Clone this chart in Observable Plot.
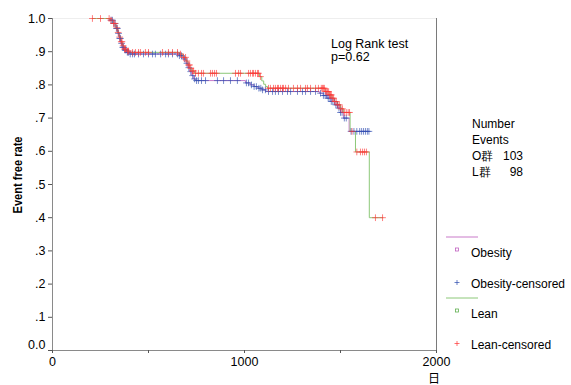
<!DOCTYPE html>
<html><head><meta charset="utf-8">
<script src="https://cdn.jsdelivr.net/npm/d3@7"></script>
<script src="https://cdn.jsdelivr.net/npm/@observablehq/plot@0.6"></script>
<style>
body{margin:0;background:#fff;}
#wrap{position:relative;width:571px;height:385px;overflow:hidden;background:#fff;}
</style></head><body><div id="wrap"></div>
<script>
// ---- data ----
const obesityTime = [208,300,315,330,340,348,356,364,372,385,400,660,680,695,705,715,725,735,745,1005,1030,1050,1070,1090,1110,1390,1410,1430,1450,1470,1485,1500,1515,1545];
const obesitySurv = [1,0.995,0.985,0.97,0.955,0.94,0.925,0.913,0.905,0.898,0.893,0.888,0.878,0.865,0.852,0.84,0.828,0.818,0.813,0.806,0.8,0.795,0.79,0.785,0.78,0.775,0.768,0.76,0.75,0.74,0.73,0.717,0.70,0.66];
const obesityEnd = 1652;
const obesityCensor = [305,312,320,326,333,338,344,350,354,360,366,370,378,383,390,396,405,417,427,448,474,500,521,536,563,589,604,625,651,661,672,688,700,710,720,730,740,750,760,776,797,859,891,927,963,1010,1021,1036,1050,1062,1075,1085,1094,1109,1125,1146,1161,1177,1198,1224,1240,1276,1302,1318,1344,1370,1396,1411,1420,1428,1436,1445,1452,1460,1468,1476,1484,1492,1500,1508,1520,1530,1555,1570,1585,1600,1610,1620,1630,1640,1648];

const leanTime = [208,300,315,330,340,348,356,364,372,385,400,660,680,695,705,715,725,740,1078,1090,1100,1110,1120,1420,1440,1455,1470,1485,1500,1515,1550,1578,1650];
const leanSurv = [1,0.995,0.985,0.972,0.958,0.944,0.93,0.918,0.908,0.902,0.898,0.893,0.883,0.872,0.86,0.85,0.842,0.835,0.825,0.812,0.802,0.795,0.79,0.78,0.77,0.76,0.75,0.74,0.728,0.717,0.66,0.598,0.40];
const leanEnd = 1722;
const leanCensor = [208,250,295,305,318,325,335,342,350,358,362,368,375,380,391,396,417,432,448,458,484,500,573,604,625,651,667,682,693,700,708,714,720,729,735,745,760,776,786,823,833,844,854,953,969,979,1021,1031,1042,1047,1057,1068,1073,1083,1125,1135,1151,1161,1172,1177,1188,1198,1203,1214,1229,1255,1276,1292,1318,1328,1344,1370,1385,1400,1406,1411,1416,1422,1428,1432,1438,1443,1448,1452,1458,1464,1470,1478,1486,1494,1502,1510,1520,1530,1540,1547,1560,1585,1604,1615,1625,1635,1682,1719];

const xTicks = [0,500,1000,1500,2000];
const xTickLabels = ["0","","1000","","2000"];
const yTicks = [0,0.1,0.2,0.3,0.4,0.5,0.6,0.7,0.8,0.9,1.0];
const yTickLabels = ["0.0",".1",".2",".3",".4",".5",".6",".7",".8",".9","1.0"];

const groupNames = ["Obesity","Lean"];
const eventLabels = ["O群","L群"];
const eventCounts = [103, 98];
const testLines = ["Log Rank test","p=0.62"];

// ---- helpers ----
function stepAt(times, surv, t){ let v = surv[0]; for (let i=0;i<times.length;i++){ if (times[i] <= t) v = surv[i]; else break; } return v; }
function curve(times, surv, end){ return times.map((t,i)=>({t, s:surv[i]})).concat([{t:end, s:surv[surv.length-1]}]); }
function cens(times, surv, c){ return c.map(t=>({t, s:stepAt(times, surv, t)})); }

const obLine = curve(obesityTime, obesitySurv, obesityEnd);
const leLine = curve(leanTime, leanSurv, leanEnd);
const obCens = cens(obesityTime, obesitySurv, obesityCensor);
const leCens = cens(leanTime, leanSurv, leanCensor);

const obLineColor = "#c97ac9", leLineColor = "#8cc878", blue = "#2f4fb0", red = "#ff3838";
const font = "'Liberation Sans', Arial, sans-serif";

const chart = Plot.plot({
  width: 571, height: 385,
  marginLeft: 52, marginRight: 135, marginTop: 18, marginBottom: 35,
  x: {domain: [0, 2000]},
  y: {domain: [0, 1]},
  style: {fontFamily: font, fontSize: "12px", background: "white", color: "black"},
  marks: [
    Plot.ruleY([1], {stroke: "#eeeeee"}),
    Plot.ruleX([2000], {stroke: "#7a7a7a"}),
    Plot.ruleX([0], {stroke: "#8a8a8a"}),
    Plot.ruleY([0], {stroke: "#8a8a8a"}),
    Plot.axisX({ticks: xTicks, tickFormat: d => xTickLabels[xTicks.indexOf(d)], tickSize: 3, tickPadding: 4, label: null, stroke: "#555", fontSize: 12.5}),
    Plot.axisY({ticks: yTicks, tickFormat: d => { const i = yTicks.findIndex(v => Math.abs(v-d) < 1e-9); return i > 0 ? yTickLabels[i] : ""; }, tickSize: 4, tickPadding: 3, label: null, stroke: "#555", fontSize: 12.5}),
    Plot.axisY({ticks: [0], tickFormat: () => yTickLabels[0], tickSize: 0, tickPadding: 7, dy: -6, label: null, fontSize: 12.5}),
    Plot.line(obLine, {x: "t", y: "s", curve: "step-after", stroke: obLineColor, strokeWidth: 1}),
    Plot.line(leLine, {x: "t", y: "s", curve: "step-after", stroke: leLineColor, strokeWidth: 1}),
    Plot.dot(obCens, {x: "t", y: "s", symbol: "plus", r: 2.3, stroke: blue, strokeWidth: 1, strokeOpacity: 0.65}),
    Plot.dot(leCens, {x: "t", y: "s", symbol: "plus", r: 2.3, stroke: red, strokeWidth: 1, strokeOpacity: 0.65})
  ]
});
document.getElementById("wrap").appendChild(chart);

// ---- annotations ----
const svg = d3.select(chart);
const g = svg.append("g").attr("font-family", font).attr("fill", "black").attr("text-anchor", "start");
// y label
g.append("text").attr("transform", "translate(22,175) rotate(-90)").attr("text-anchor", "middle")
  .attr("font-weight", "bold").attr("font-size", 12).attr("textLength", 77).attr("lengthAdjust", "spacingAndGlyphs").text("Event free rate");
// x label
g.append("text").attr("x", 434).attr("y", 383).attr("text-anchor", "middle").attr("font-size", 12)
  .attr("font-family", "'Noto Sans CJK JP', sans-serif").text("日");
// test
testLines.forEach((s, i) => g.append("text").attr("x", 331).attr("y", 48 + i*13).attr("font-size", 12.5).text(s));
// numbers
g.append("text").attr("x", 472).attr("y", 128).attr("font-size", 12).text("Number");
g.append("text").attr("x", 472).attr("y", 144).attr("font-size", 12).text("Events");
eventLabels.forEach((s, i) => {
  g.append("text").attr("x", 472).attr("y", 160 + i*15.5).attr("font-size", 12).text(s);
  g.append("text").attr("x", 523).attr("y", 160 + i*15.5).attr("font-size", 12).attr("text-anchor", "end").text(eventCounts[i]);
});
// legend
const legend = [
  {line: obLineColor, sq: "#c060c0", plus: blue, y: 237, name: groupNames[0]},
  {line: leLineColor, sq: "#60b050", plus: red, y: 298, name: groupNames[1]}
];
legend.forEach(L => {
  g.append("line").attr("x1", 446).attr("x2", 478).attr("y1", L.y).attr("y2", L.y).attr("stroke", L.line).attr("stroke-width", 1);
  g.append("rect").attr("x", 455.5).attr("y", L.y + 11).attr("width", 3).attr("height", 3).attr("fill", "none").attr("stroke", L.sq).attr("stroke-width", 0.8);
  g.append("text").attr("x", 471).attr("y", L.y + 20).attr("font-size", 12).text(L.name);
  g.append("path").attr("d", `M454.5,${L.y+45.5}h5M457,${L.y+43}v5`).attr("stroke", L.plus).attr("stroke-width", 0.9).attr("stroke-opacity", 0.8);
  g.append("text").attr("x", 471).attr("y", L.y + 51).attr("font-size", 12).text(L.name + "-censored");
});
</script></body></html>
